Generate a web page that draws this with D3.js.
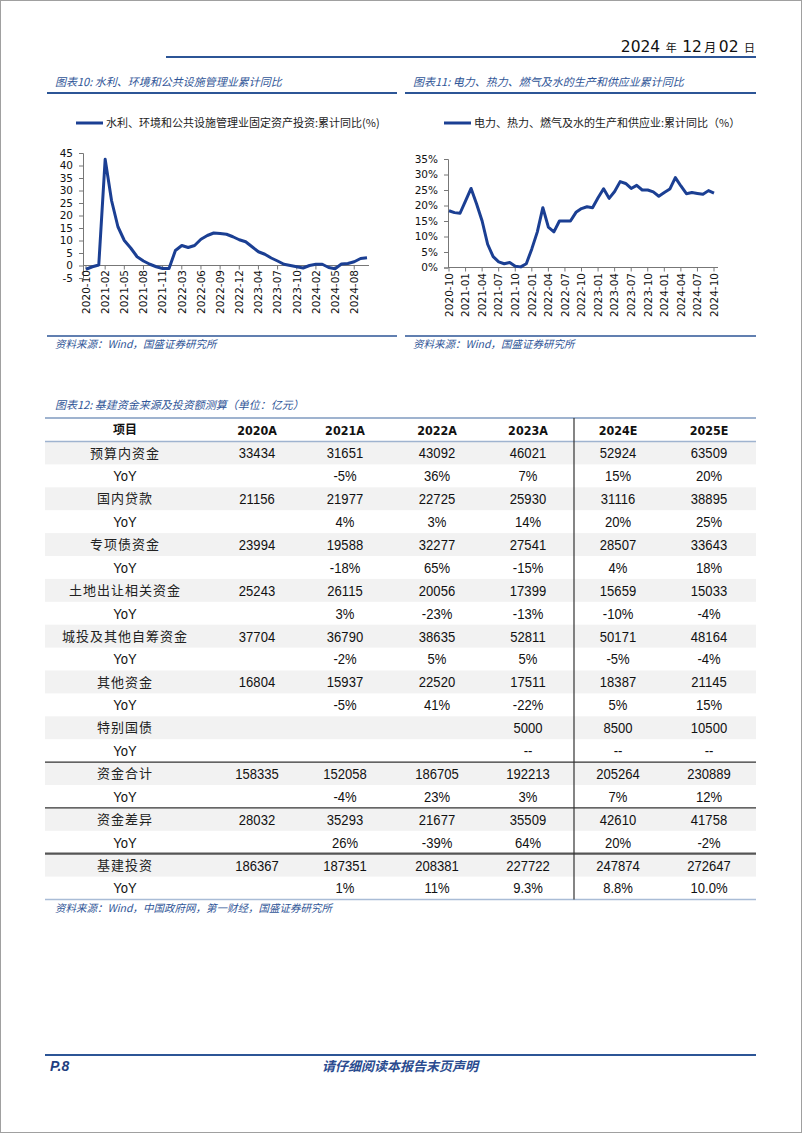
<!DOCTYPE html>
<html><head><meta charset="utf-8">
<script src="https://cdn.jsdelivr.net/npm/d3@7"></script>
<style>
html,body{margin:0;padding:0;background:#fff;}
svg{display:block;}
</style></head><body>
<svg id="page" width="802" height="1133"></svg>
<script>
// ---------- DATA ----------
const c10Dates = ["2020-10","2020-11","2020-12","2021-02","2021-03","2021-04","2021-05","2021-06","2021-07","2021-08","2021-09","2021-10","2021-11","2021-12","2022-02","2022-03","2022-04","2022-05","2022-06","2022-07","2022-08","2022-09","2022-10","2022-11","2022-12","2023-02","2023-03","2023-04","2023-05","2023-06","2023-07","2023-08","2023-09","2023-10","2023-11","2023-12","2024-02","2024-03","2024-04","2024-05","2024-06","2024-07","2024-08","2024-09","2024-10"];
const c10Values = [-1.5,-0.5,0.2,42.5,26,15.5,10,7,3.5,1.8,0.5,-0.5,-1.2,-1.2,6,8,7.2,8,10.5,12,13,12.8,12.5,11.5,10.3,9.5,7.5,5.5,4.5,3,1.8,0.5,0,-0.5,-1,0,0.5,0.5,-0.8,-1.3,0.6,0.8,1.5,2.8,3.1];
const c10Ticks = [-5,0,5,10,15,20,25,30,35,40,45];

const c11Dates = ["2020-10","2020-11","2020-12","2021-01","2021-02","2021-03","2021-04","2021-05","2021-06","2021-07","2021-08","2021-09","2021-10","2021-11","2021-12","2022-01","2022-02","2022-03","2022-04","2022-05","2022-06","2022-07","2022-08","2022-09","2022-10","2022-11","2022-12","2023-01","2023-02","2023-03","2023-04","2023-05","2023-06","2023-07","2023-08","2023-09","2023-10","2023-11","2023-12","2024-01","2024-02","2024-03","2024-04","2024-05","2024-06","2024-07","2024-08","2024-09","2024-10"];
const c11Values = [18.3,17.7,17.5,21.5,25.5,20.5,15,7.5,3.5,1.8,1.2,1.6,0.4,0.2,1.2,6,11.5,19.3,13,11.5,15,15,15,17.8,19,19.6,19.3,22.5,25.4,22.3,24.5,27.7,27.1,25.5,26.5,25,25,24.4,23,24.2,25.3,29,26.3,23.8,24.2,23.9,23.6,24.8,24];
const c11Ticks = [0,5,10,15,20,25,30,35];

const tableColumns = ["2020A","2021A","2022A","2023A","2024E","2025E"];
const rowNames = ["预算内资金","国内贷款","专项债资金","土地出让相关资金","城投及其他自筹资金","其他资金","特别国债","资金合计","资金差异","基建投资"];
const rowAmounts = [
  [33434,31651,43092,46021,52924,63509],
  [21156,21977,22725,25930,31116,38895],
  [23994,19588,32277,27541,28507,33643],
  [25243,26115,20056,17399,15659,15033],
  [37704,36790,38635,52811,50171,48164],
  [16804,15937,22520,17511,18387,21145],
  [null,null,null,5000,8500,10500],
  [158335,152058,186705,192213,205264,230889],
  [28032,35293,21677,35509,42610,41758],
  [186367,187351,208381,227722,247874,272647]
];
const rowYoY = [
  ["","-5%","36%","7%","15%","20%"],
  ["","4%","3%","14%","20%","25%"],
  ["","-18%","65%","-15%","4%","18%"],
  ["","3%","-23%","-13%","-10%","-4%"],
  ["","-2%","5%","5%","-5%","-4%"],
  ["","-5%","41%","-22%","5%","15%"],
  ["","","","--","--","--"],
  ["","-4%","23%","3%","7%","12%"],
  ["","26%","-39%","64%","20%","-2%"],
  ["","1%","11%","9.3%","8.8%","10.0%"]
];

// ---------- STYLE ----------
const LINE = "#1b3f93";
const HEAD = "#2c5596";
const TXTBLUE = "#2f5597";
const CJK = "'Noto Sans CJK SC', sans-serif";
const TICKF = "'DejaVu Sans', Verdana, sans-serif";
const NUMF = "'Liberation Sans',Arial,sans-serif";

const svg = d3.select("#page");
svg.append("rect").attr("x",0.5).attr("y",0.5).attr("width",801).attr("height",1132)
  .attr("fill","#fff").attr("stroke","#a0a0a0").attr("stroke-width",1);

// header date
const dt = svg.append("text").attr("x",755).attr("y",52).attr("text-anchor","end").attr("fill","#111");
[["2024","15.5px",TICKF],["\u2002年\u2002","11px",CJK],["12","15.5px",TICKF],["\u2009月\u2009","12px",CJK],["02","15.5px",TICKF],["\u2002日","11px",CJK]]
  .forEach(([t,s,f])=>dt.append("tspan").text(t).attr("font-size",s).attr("font-family",f));
svg.append("line").attr("x1",166).attr("x2",756).attr("y1",57).attr("y2",57).attr("stroke",HEAD).attr("stroke-width",2);

// titles
function title(x,y,t){
  svg.append("text").attr("x",x).attr("y",y).text(t).attr("font-family",CJK).attr("font-size","11px")
    .attr("font-style","italic").attr("fill",TXTBLUE);
}
title(55,86,"图表10: 水利、环境和公共设施管理业累计同比");
title(413,86,"图表11: 电力、热力、燃气及水的生产和供应业累计同比");
function hline(x1,x2,y,c,w){svg.append("line").attr("x1",x1).attr("x2",x2).attr("y1",y).attr("y2",y).attr("stroke",c).attr("stroke-width",w);}
hline(47,397,93,HEAD,2);
hline(405,756,93,HEAD,2);
hline(47,397,336,HEAD,1.5);
hline(405,756,336,HEAD,1.5);
function source(x,y,t){
  svg.append("text").attr("x",x).attr("y",y).text(t).attr("font-family",CJK).attr("font-size","10.5px")
    .attr("font-style","italic").attr("fill",TXTBLUE);
}
source(55,348,"资料来源：Wind，国盛证券研究所");
source(413,348,"资料来源：Wind，国盛证券研究所");

// ---------- LINE CHART helper ----------
function lineChart(o){
  const g = svg.append("g");
  const x = d3.scalePoint().domain(o.dates).range(o.xr);
  const y = d3.scaleLinear().domain(o.yd).range(o.yr);
  // legend
  g.append("line").attr("x1",o.leg[0]).attr("x2",o.leg[0]+27).attr("y1",o.leg[1]).attr("y2",o.leg[1])
    .attr("stroke",LINE).attr("stroke-width",3);
  g.append("text").attr("x",o.leg[0]+30).attr("y",o.leg[1]+4).text(o.legend)
    .attr("font-family",CJK).attr("font-size","11px").attr("fill","#222");
  // y axis
  const ya = d3.axisLeft(y).tickValues(o.yticks).tickSize(4).tickPadding(6).tickFormat(o.yfmt);
  const gy = g.append("g").attr("transform",`translate(${o.axisX},0)`).call(ya);
  gy.select(".domain").attr("stroke","#777");
  gy.selectAll(".tick line").attr("stroke","#777");
  gy.selectAll("text").attr("font-family",TICKF).attr("font-size","10.5px").attr("fill","#111");
  // x axis at zero
  const labelDates = o.dates.filter((d,i)=>i%3===0);
  const y0 = y(0);
  g.append("line").attr("x1",o.axisX).attr("x2",o.axisEnd).attr("y1",y0).attr("y2",y0).attr("stroke","#777");
  g.selectAll(".xt").data(labelDates).join("line").attr("x1",d=>x(d)).attr("x2",d=>x(d))
    .attr("y1",y0).attr("y2",y0+4).attr("stroke","#777");
  g.selectAll(".xl").data(labelDates).join("text")
    .attr("transform",d=>`translate(${x(d)},${o.labelTop}) rotate(-90)`)
    .attr("text-anchor","end").attr("dy","0.36em").text(d=>d)
    .attr("font-family",TICKF).attr("font-size","10.5px").attr("fill","#111");
  // line
  const ln = d3.line().x((d,i)=>x(o.dates[i])).y(d=>y(d));
  g.append("path").datum(o.values).attr("d",ln).attr("fill","none").attr("stroke",LINE)
    .attr("stroke-width",3).attr("stroke-linejoin","round");
}

lineChart({dates:c10Dates,values:c10Values,xr:[86,367],yd:[-5,45],yr:[278,153],yticks:c10Ticks,
  yfmt:d=>d,axisX:83,axisEnd:369,labelTop:270,leg:[76,123],
  legend:"水利、环境和公共设施管理业固定资产投资:累计同比(%)"});
lineChart({dates:c11Dates,values:c11Values,xr:[449,714],yd:[0,35],yr:[267.5,159],yticks:c11Ticks,
  yfmt:d=>d+"%",axisX:448,axisEnd:718,labelTop:273,leg:[444,123],
  legend:"电力、热力、燃气及水的生产和供应业:累计同比（%）"});

// ---------- TABLE ----------
svg.append("text").attr("x",55).attr("y",409).text("图表12: 基建资金来源及投资额测算（单位：亿元）")
  .attr("font-family",CJK).attr("font-size","11px").attr("font-style","italic").attr("fill",TXTBLUE);

const tX0 = 45, tX1 = 756, headY = 430, bodyTop = 441.5, rowH = 22.9;
const colX = d3.scaleOrdinal().domain(["项目"].concat(tableColumns)).range([125,257,345,437,528,618,709]);

// build rows
const rows = [];
rowNames.forEach((n,i)=>{
  rows.push({label:n, cells:rowAmounts[i].map(v=>v==null?"":String(v)), shade:true, cjk:true});
  rows.push({label:"YoY", cells:rowYoY[i], shade:false, cjk:false});
});
const rowY = d3.scaleBand().domain(d3.range(rows.length)).range([bodyTop, bodyTop+rowH*rows.length]);

const tg = svg.append("g");
tg.selectAll(".shade").data(rows.map((r,i)=>({r,i})).filter(d=>d.r.shade)).join("rect")
  .attr("x",tX0).attr("width",tX1-tX0).attr("y",d=>rowY(d.i)).attr("height",rowY.bandwidth())
  .attr("fill","#f2f2f2");

// header
tg.append("text").attr("x",colX("项目")).attr("y",headY).attr("dy","0.36em").attr("text-anchor","middle")
  .text("项目").attr("font-family",CJK).attr("font-size","12px").attr("font-weight","bold").attr("fill","#111");
tg.selectAll(".hd").data(tableColumns).join("text").attr("x",d=>colX(d)).attr("y",headY).attr("dy","0.36em")
  .attr("text-anchor","middle").text(d=>d).attr("font-family","'DejaVu Sans',Verdana,sans-serif")
  .attr("font-size","13px").attr("font-weight","bold").attr("fill","#111")
  .attr("transform",d=>`translate(${colX(d)},0) scale(0.86,1) translate(${-colX(d)},0)`);

// body (narrow numeric glyphs via horizontal scaling)
function numText(sel, x, y, t){
  sel.append("text").attr("transform",`translate(${x},${y}) scale(0.87,1)`)
    .attr("dy","0.36em").attr("text-anchor","middle").text(t)
    .attr("font-family",NUMF).attr("font-size","15px").attr("fill","#111");
}
rows.forEach((r,i)=>{
  const cy = rowY(i)+rowY.bandwidth()/2;
  if(r.cjk){
    tg.append("text").attr("x",colX("项目")).attr("y",cy).attr("dy","0.36em").attr("text-anchor","middle")
      .text(r.label).attr("fill","#222").attr("font-family",CJK).attr("font-size","13px").attr("letter-spacing","1px");
  } else {
    numText(tg, colX("项目"), cy, r.label);
  }
  r.cells.forEach((c,j)=>{ if(c!=="") numText(tg, colX(tableColumns[j]), cy, c); });
});

// table lines
const bottom = bodyTop+rowH*rows.length;
function tl(y,c,w){tg.append("line").attr("x1",tX0).attr("x2",tX1).attr("y1",y).attr("y2",y).attr("stroke",c).attr("stroke-width",w);}
tl(418,"#9fb3cf",2);
tl(bodyTop,"#9fb3cf",1.5);
tl(rowY(14),"#333",1.3);
tl(rowY(16),"#333",1.3);
tl(rowY(18),"#555",2.2);
tl(bottom,"#a9bcd6",1.5);
tg.append("line").attr("x1",574).attr("x2",574).attr("y1",418).attr("y2",bottom).attr("stroke","#333").attr("stroke-width",1.2);

svg.append("text").attr("x",55).attr("y",912).text("资料来源：Wind，中国政府网，第一财经，国盛证券研究所")
  .attr("font-family",CJK).attr("font-size","10.5px").attr("font-style","italic").attr("fill",TXTBLUE);

// ---------- FOOTER ----------
hline(45,756,1055,HEAD,2);
svg.append("text").attr("x",50).attr("y",1071).text("P.8").attr("font-family","'Liberation Sans',Arial,sans-serif")
  .attr("font-size","14px").attr("font-weight","bold").attr("font-style","italic").attr("fill","#1f3f7f");
svg.append("text").attr("x",400).attr("y",1071).attr("text-anchor","middle").text("请仔细阅读本报告末页声明")
  .attr("font-family",CJK).attr("font-size","13px").attr("font-weight","bold").attr("font-style","italic").attr("fill","#2a4b8f");
</script>
</body></html>
